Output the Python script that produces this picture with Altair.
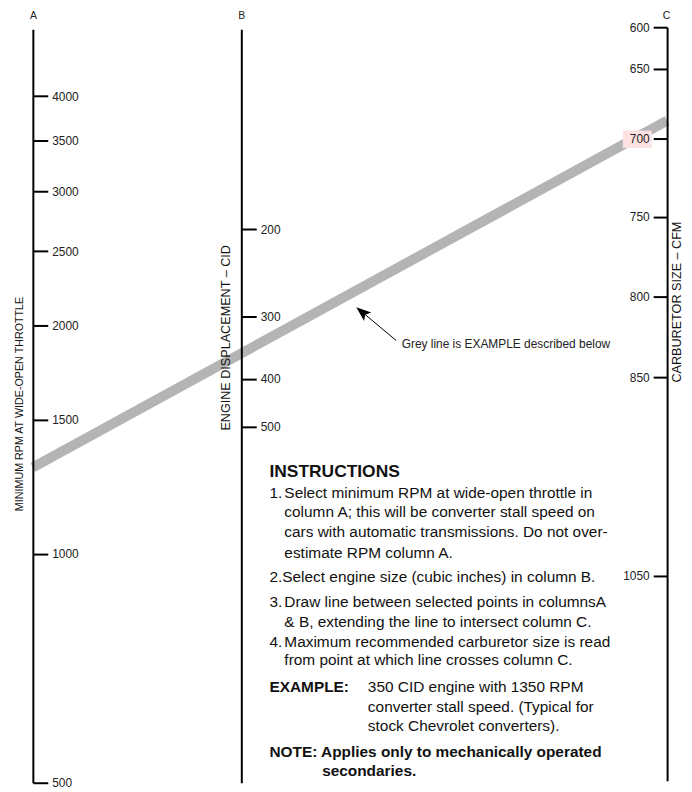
import altair as alt

# ---------------- data ----------------
column_letters = ["A", "B", "C"]

rpm_ticks = [500, 1000, 1500, 2000, 2500, 3000, 3500, 4000]      # column A
cid_ticks = [200, 300, 400, 500]                                  # column B
cfm_ticks = [600, 650, 700, 750, 800, 850, 1050]                  # column C

# grey example line, expressed on the RPM scale of column A:
# where it leaves column A, and the RPM-scale level where it meets column C
example_rpm_at_a = [1300]
example_rpm_level_at_c = [3715]
highlight_cfm = [700]

title_a = "MINIMUM RPM AT WIDE-OPEN THROTTLE"
title_b = "ENGINE DISPLACEMENT – CID"
title_c = "CARBURETOR SIZE – CFM"
caption = "Grey line is EXAMPLE described below"

instr_heading = "INSTRUCTIONS"
item_numbers = ["1.", "3.", "4."]
item1_lines = [
    "Select minimum RPM at wide-open throttle in",
    "column A; this will be converter stall speed on",
    "cars with automatic transmissions. Do not over-",
    "estimate RPM column A.",
]
item2_line = "2.Select engine size (cubic inches) in column B."
item3_lines = [
    "Draw line between selected points in columnsA",
    "& B, extending the line to intersect column C.",
]
item4_lines = [
    "Maximum recommended carburetor size is read",
    "from point at which line crosses column C.",
]
example_label = "EXAMPLE:"
example_lines = [
    "350 CID engine with 1350 RPM",
    "converter stall speed. (Typical for",
    "stock Chevrolet converters).",
]
note_lines = ["NOTE: Applies only to mechanically operated", "secondaries."]

# ---------------- layout / style ----------------
W, H = 680, 784
XA, XB, XC = 25, 234.7, 663
FONT = "Liberation Sans, Arial, Helvetica, sans-serif"
INK = "#111111"

common_axis = dict(
    tickWidth=2, tickColor="black", domainColor="black", domainWidth=2,
    labelPadding=4, labelFontSize=12, labelFont=FONT, labelColor="#222222",
    labelFlush=False, labelOverlap=False, grid=False, format="d",
    titleAngle=270, titleAlign="center", titleBaseline="middle",
    titleFontWeight="normal", titleColor=INK, titleFont=FONT, zindex=1,
)

scale_a = alt.Scale(type="log", domain=[500, 4900], range=[777, 19], nice=False)
scale_b = alt.Scale(type="log", domain=[79, 2610], range=[19, 777], nice=False)
scale_c = alt.Scale(
    type="linear",
    domain=[600, 650, 700, 750, 800, 850, 1050, 1256],
    range=[17, 58.7, 128.7, 207.7, 288, 369.3, 568.7, 775],
    nice=False, zero=False,
)

axis_a = alt.Axis(orient="right", offset=XA - W, values=rpm_ticks, tickSize=15,
                  title=title_a, titleX=-13, titleY=395.5,
                  titleFontSize=10.8, **common_axis)
axis_b = alt.Axis(orient="right", offset=XB - W, values=cid_ticks, tickSize=15,
                  title=title_b, titleX=-16, titleY=329,
                  titleFontSize=12.7, **common_axis)
axis_c = alt.Axis(orient="left", offset=-XC, values=cfm_ticks, tickSize=14,
                  title=title_c, titleX=9, titleY=293,
                  titleFontSize=12.7, **common_axis)

# grey example line (column A scale)
line_rows = [{"rpm_a": a, "rpm_c": c} for a, c in zip(example_rpm_at_a, example_rpm_level_at_c)]
layer_a = alt.Chart(alt.Data(values=line_rows)).mark_rule(
    color="#b4b4b4", strokeWidth=10, strokeCap="butt"
).encode(
    x=alt.value(XA), x2=alt.value(XC),
    y=alt.Y("rpm_a:Q", scale=scale_a, axis=axis_a),
    y2="rpm_c:Q",
)

# column B scale carrier
layer_b = alt.Chart(alt.Data(values=[{"cid": v} for v in cid_ticks])).mark_point(
    opacity=0
).encode(
    x=alt.value(XB),
    y=alt.Y("cid:Q", scale=scale_b, axis=axis_b),
)

# column C with pink highlight behind "700"
BOX = "M-1,-0.6H1V0.6H-1Z"
layer_c = alt.Chart(alt.Data(values=[{"cfm": v} for v in highlight_cfm])).mark_point(
    shape=BOX, size=841, filled=True, color="#fde2e2", opacity=1, strokeWidth=0, yOffset=1
).encode(
    x=alt.value(633),
    y=alt.Y("cfm:Q", scale=scale_c, axis=axis_c),
)


def text_mark(s, x, y, size=15.5, bold=False, font=FONT, color=INK, align="left"):
    return alt.Chart(alt.Data(values=[{"t": s}])).mark_text(
        align=align, baseline="middle", font=font, fontSize=size,
        fontWeight="bold" if bold else "normal", color=color,
    ).encode(x=alt.value(x), y=alt.value(y), text="t:N")


texts = []
# column letters
for letter, x in zip(column_letters, [25.5, 235, 662.5]):
    texts.append(text_mark(letter, x, 6, size=10.5, color="#222222", align="center"))

# caption + arrow
texts.append(text_mark(caption, 396, 335.3, size=12, color="#222222"))
arrow_shaft = alt.Chart(alt.Data(values=[{}])).mark_rule(color="black", strokeWidth=1).encode(
    x=alt.value(390.3), y=alt.value(332), x2=alt.value(358), y2=alt.value(305)
)
ARROW = "M0,-1L0.75,1L0,0.55L-0.75,1Z"
arrow_head = alt.Chart(alt.Data(values=[{}])).mark_point(
    shape=ARROW, size=225, angle=310, filled=True, color="black", opacity=1, strokeWidth=0
).encode(x=alt.value(356.1), y=alt.value(303.5))

# instructions block
TX0, TX1, TXE, TXN = 263, 278, 362, 316
texts.append(text_mark(instr_heading, TX0, 464.7, size=17.5, bold=True))
texts.append(text_mark(item_numbers[0], TX0, 486))
for s, y in zip(item1_lines, [486, 505, 525, 546]):
    texts.append(text_mark(s, TX1, y))
texts.append(text_mark(item2_line, TX0, 570))
texts.append(text_mark(item_numbers[1], TX0, 595))
for s, y in zip(item3_lines, [595, 615]):
    texts.append(text_mark(s, TX1, y))
texts.append(text_mark(item_numbers[2], TX0, 635))
for s, y in zip(item4_lines, [635, 654]):
    texts.append(text_mark(s, TX1, y))
texts.append(text_mark(example_label, TX0, 681, bold=True))
for s, y in zip(example_lines, [681, 701, 720]):
    texts.append(text_mark(s, TXE, y))
texts.append(text_mark(note_lines[0], TX0, 746, bold=True))
texts.append(text_mark(note_lines[1], TXN, 765, bold=True))

chart = alt.layer(
    layer_a, layer_b, layer_c, arrow_shaft, arrow_head, *texts
).resolve_scale(
    y="independent"
).properties(
    width=W, height=H, padding=0, autosize=alt.AutoSizeParams(type="none")
).configure_view(stroke=None)

chart.save("out.html", embed_options={"renderer": "svg", "actions": False})
